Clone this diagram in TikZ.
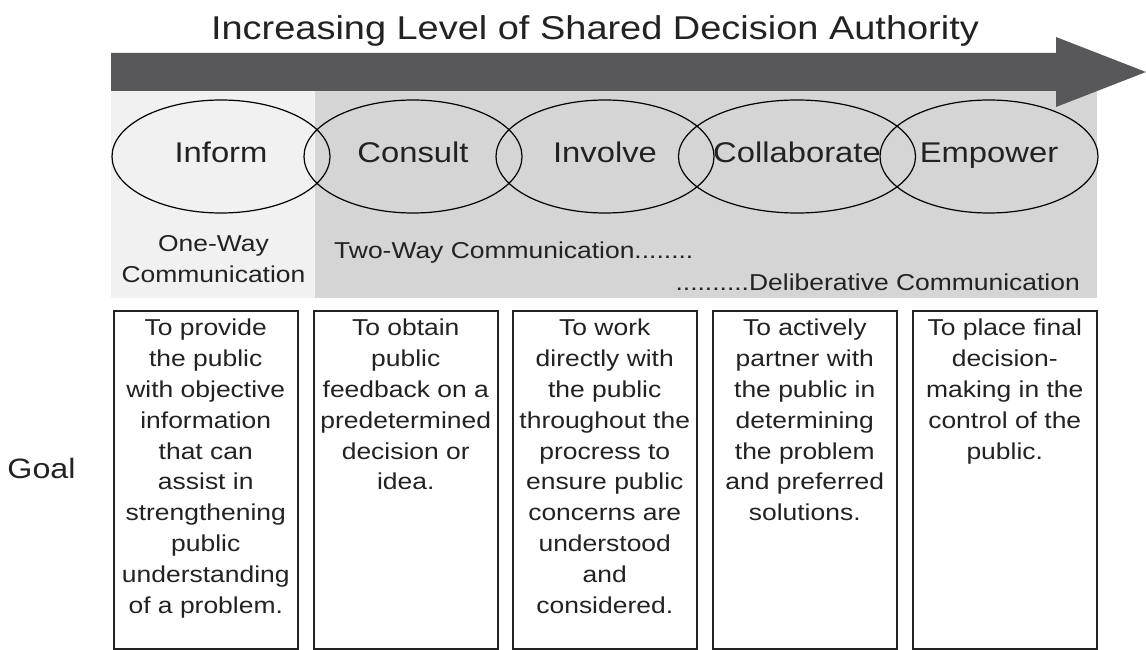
\documentclass[tikz,border=0pt]{standalone}
\usepackage{fontspec}
\setmainfont{Liberation Sans}[FakeStretch=1.15]
\usetikzlibrary{positioning, shapes.geometric}
\definecolor{arrowgray}{RGB}{88,88,90}
\definecolor{lightband}{RGB}{241,241,241}
\definecolor{darkband}{RGB}{213,213,213}
\definecolor{inkgray}{RGB}{34,34,34}

\begin{document}
\begin{tikzpicture}[x=1pt,y=-1pt,
    every node/.style={text=inkgray},
    stage/.style={ellipse,draw=black,line width=1.2pt,minimum width=218pt,minimum height=113pt,
        inner sep=0pt,text height=21pt,text depth=8pt,font=\fontsize{28.5}{30}\selectfont},
    goalbox/.style={draw=inkgray,line width=1.5pt,minimum width=184pt,minimum height=338pt,
        inner sep=0pt,anchor=north west},
    goaltext/.style={align=center,inner sep=0pt,font=\fontsize{23}{30.8}\selectfont},
    commtext/.style={align=center,inner sep=0pt,font=\fontsize{23}{31}\selectfont}]

    \useasboundingbox (0,0) rectangle (1146,650);

    % background bands, arrow on top
    \fill[lightband] (111,91) rectangle (315,298);
    \fill[darkband] (315,91) rectangle (1097,298);
    \fill[arrowgray] (111,53) -- (1056,53) -- (1056,37) -- (1146,72)
        -- (1056,107) -- (1056,91) -- (111,91) -- cycle;

    \node[font=\fontsize{33}{36}\selectfont, anchor=base] (title) at (595,40)
        {Increasing Level of Shared Decision Authority};

    % the five levels
    \node[stage] (E1) at (221,156.5) {Inform};
    \node[stage] (E2) at (413,156.5) {Consult};
    \node[stage] (E3) at (605,156.5) {Involve};
    \node[stage] (E4) at (797,156.5) {Collaborate};
    \node[stage] (E5) at (989,156.5) {Empower};

    % kinds of communication
    \node[commtext, anchor=north] (C1) at (213.5,235) {One-Way\\Communication};
    \node[commtext, anchor=base west] (C2) at (334,258) {Two-Way Communication........};
    \node[commtext, anchor=base east] (C3) at (1080,290) {..........Deliberative Communication};

    \node[font=\fontsize{28}{30}\selectfont, anchor=base] (goal) at (41.5,478) {Goal};

    % goal boxes, text hung from the top
    \node[goalbox] (G1) at (113,310) {};
    \node[goalbox] (G2) at (313,310) {};
    \node[goalbox] (G3) at (512,310) {};
    \node[goalbox] (G4) at (712,310) {};
    \node[goalbox] (G5) at (912,310) {};

    \node[goaltext, below=9pt of G1.north] (T1) {To provide\\the public\\with objective\\information\\that can\\assist in\\strengthening\\public\\understanding\\of a problem.};
    \node[goaltext, below=9pt of G2.north] (T2) {To obtain\\public\\feedback on a\\predetermined\\decision or\\idea.};
    \node[goaltext, below=9pt of G3.north] (T3) {To work\\directly with\\the public\\throughout the\\procress to\\ensure public\\concerns are\\understood\\and\\considered.};
    \node[goaltext, below=9pt of G4.north] (T4) {To actively\\partner with\\the public in\\determining\\the problem\\and preferred\\solutions.};
    \node[goaltext, below=9pt of G5.north] (T5) {To place final\\decision-\\making in the\\control of the\\public.};

\end{tikzpicture}
\end{document}
